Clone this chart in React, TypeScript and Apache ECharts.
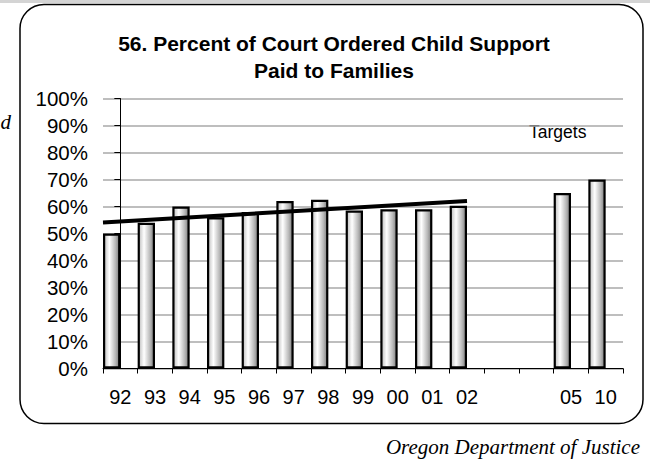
import React, { useEffect, useRef } from "react";
import * as echarts from "echarts";

// Data
const categories = ["92", "93", "94", "95", "96", "97", "98", "99", "00", "01", "02", "03", "04", "05", "10"];
const hiddenLabels = ["03", "04"];
const percentPaid = [50, 54, 60, 56, 58, 62, 62.5, 58.5, 59, 59, 60.3, null, null, 65, 70];
const spacerSeries = [null, null, null, null, null, null, null, null, null, null, null, null, null, null, null];
const trendX = [-0.5, 10];
const trendY = [54.1, 62.0];
const yTicks = { min: 0, max: 100, interval: 10 };
const titleLines = ["56. Percent of Court Ordered Child Support", "Paid to Families"];
const targetLabel = "Targets";
const sourceLabel = "Oregon Department of Justice";

export default function App() {
  const ref = useRef<HTMLDivElement>(null);
  useEffect(() => {
    if (!ref.current) return;
    const chart = echarts.init(ref.current, undefined, { renderer: "svg" });
    const sans = "'Liberation Sans', Arial, sans-serif";
    const serif = "'Liberation Serif', 'Times New Roman', serif";
    const barFill = new echarts.graphic.LinearGradient(0, 0, 1, 0, [
      { offset: 0, color: "#bdbdbd" },
      { offset: 0.35, color: "#ffffff" },
      { offset: 0.75, color: "#b8b8b8" },
      { offset: 1, color: "#7e7e7e" },
    ]);
    chart.setOption({
      animation: false,
      backgroundColor: "#ffffff",
      textStyle: { fontFamily: sans },
      title: {
        text: titleLines.join("\n"),
        left: 329,
        top: 25,
        textAlign: "center",
        textStyle: { fontSize: 21, fontWeight: "bold", color: "#000", lineHeight: 27, fontFamily: sans },
      },
      grid: { left: 103, right: 27, top: 98.5, bottom: 93.5, containLabel: false },
      xAxis: [
        {
          type: "category",
          data: categories,
          boundaryGap: true,
          axisLine: { show: true, lineStyle: { color: "#000", width: 1 } },
          axisTick: { show: true, length: 5, alignWithLabel: false, lineStyle: { color: "#000" } },
          axisLabel: {
            color: "#000",
            fontSize: 20,
            margin: 18,
            interval: 0,
            fontFamily: sans,
            formatter: (v: string) => (hiddenLabels.includes(v) ? "" : v),
          },
          splitLine: { show: false },
        },
        {
          type: "value",
          min: -0.5,
          max: categories.length - 0.5,
          show: false,
        },
      ],
      yAxis: {
        type: "value",
        min: yTicks.min,
        max: yTicks.max,
        interval: yTicks.interval,
        axisLine: { show: true, lineStyle: { color: "#000", width: 1 } },
        axisTick: { show: true, length: 6, lineStyle: { color: "#000" } },
        axisLabel: { color: "#000", fontSize: 20.5, margin: 15, formatter: "{value}%", fontFamily: sans },
        splitLine: { show: true, lineStyle: { color: "#a8a8a8", width: 1.5 } },
      },
      series: [
        {
          type: "bar",
          xAxisIndex: 0,
          data: percentPaid,
          barGap: "0%",
          barCategoryGap: "0%",
          itemStyle: { color: barFill, borderColor: "#000", borderWidth: 2.2 },
        },
        {
          type: "bar",
          xAxisIndex: 0,
          data: spacerSeries,
          barGap: "0%",
          barCategoryGap: "0%",
          itemStyle: { color: "transparent" },
        },
        {
          type: "line",
          xAxisIndex: 1,
          data: trendX.map((x, i) => [x, trendY[i]]),
          symbol: "none",
          lineStyle: { color: "#000", width: 4 },
          z: 5,
        },
      ],
      graphic: [
        { type: "rect", shape: { x: 0, y: 0, width: 650, height: 3 }, style: { fill: "#d4d4d4" }, silent: true },
        {
          type: "rect",
          shape: { x: 20, y: 4.5, width: 623, height: 419, r: 24 },
          style: { fill: "none", stroke: "#000", lineWidth: 1.5 },
          silent: true,
        },
        {
          type: "text",
          x: 529,
          y: 132,
          style: { text: targetLabel, font: `17.5px ${sans}`, fill: "#000", textVerticalAlign: "middle" },
        },
        {
          type: "text",
          x: 640,
          y: 447,
          style: { text: sourceLabel, font: `italic 21px ${serif}`, fill: "#000", textAlign: "right", textVerticalAlign: "middle" },
        },
        {
          type: "text",
          x: 11,
          y: 122,
          style: { text: "d", font: `italic 21px ${serif}`, fill: "#000", textAlign: "right", textVerticalAlign: "middle" },
        },
      ],
    });
    return () => chart.dispose();
  }, []);
  return (
    <div
      ref={ref}
      style={{ position: "fixed", left: 0, top: 0, width: 650, height: 462, background: "#fff" }}
    />
  );
}
